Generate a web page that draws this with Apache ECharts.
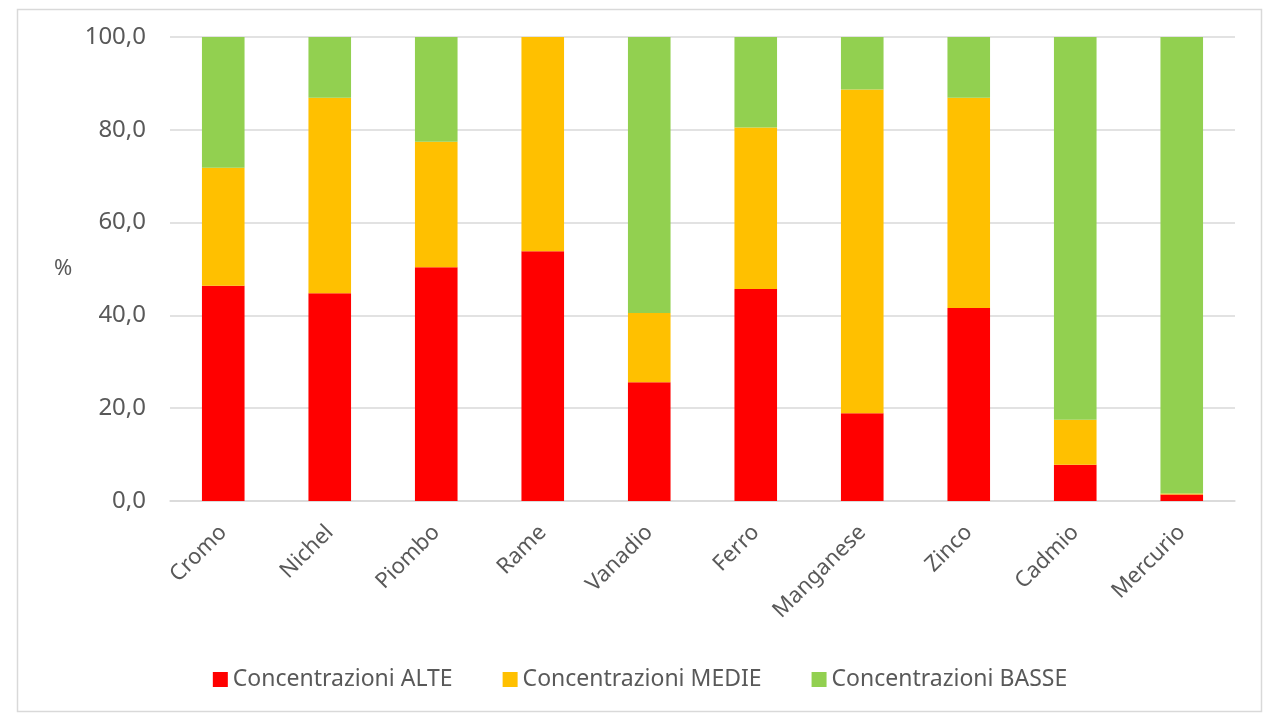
<!DOCTYPE html>
<html>
<head>
<meta charset="utf-8">
<style>
  html, body { margin: 0; padding: 0; background: #fff; }
  #chart { width: 1280px; height: 720px; }
</style>
<script src="https://cdn.jsdelivr.net/npm/echarts@6/dist/echarts.min.js"></script>
</head>
<body>
<div id="chart"></div>
<script>
// categorie (metalli)
var categories = ['Cromo', 'Nichel', 'Piombo', 'Rame', 'Vanadio', 'Ferro', 'Manganese', 'Zinco', 'Cadmio', 'Mercurio'];

// percentuali
var alte  = [46.4, 44.8, 50.4, 53.8, 25.6, 45.7, 18.9, 41.6, 7.8, 1.4];
var medie = [25.4, 42.1, 27.0, 46.2, 14.9, 34.8, 69.8, 45.3, 9.7, 0.2];
var basse = [28.2, 13.1, 22.6, 0.0, 59.5, 19.5, 11.3, 13.1, 82.5, 98.4];

var yTicks = [0, 20, 40, 60, 80, 100];

var textColor = '#595959';
var fontFam = '"Noto Sans", sans-serif';

var chart = echarts.init(document.getElementById('chart'));

function serie(name, data, color) {
	return {
		name: name,
		type: 'bar',
		stack: 'tot',
		data: data,
		barWidth: '40%',
		itemStyle: { color: color },
		emphasis: { disabled: true }
	};
}

var option = {
	animation: false,
	backgroundColor: '#fff',
	textStyle: { fontFamily: fontFam },
	color: ['#FF0000', '#FFC000', '#92D050'],
	graphic: [{
		type: 'rect',
		shape: { x: 17.5, y: 9.5, width: 1244, height: 702 },
		style: { fill: 'none', stroke: '#D9D9D9', lineWidth: 1.5 },
		silent: true
	}, {
		type: 'text',
		left: 54,
		top: 258,
		style: { text: '%', fill: textColor, font: '22px ' + fontFam }
	}],
	grid: { left: 170, right: 45, top: 37, bottom: 219 },
	legend: {
		bottom: 24,
		left: 'center',
		itemWidth: 15,
		itemHeight: 15,
		itemGap: 50,
		icon: 'rect',
		textStyle: { color: textColor, fontSize: 23, fontFamily: fontFam },
		data: ['Concentrazioni ALTE', 'Concentrazioni MEDIE', 'Concentrazioni BASSE']
	},
	xAxis: {
		type: 'category',
		data: categories,
		axisTick: { show: false },
		axisLine: { lineStyle: { color: '#D9D9D9', width: 1.5 } },
		axisLabel: { rotate: 45, color: textColor, fontSize: 22, margin: 28, fontFamily: fontFam }
	},
	yAxis: {
		type: 'value',
		min: yTicks[0],
		max: yTicks[yTicks.length - 1],
		interval: 20,
		axisLine: { show: false },
		axisTick: { show: false },
		splitLine: { lineStyle: { color: '#D9D9D9', width: 1.5 } },
		axisLabel: {
			color: textColor,
			fontSize: 24,
			margin: 24,
			fontFamily: fontFam,
			formatter: function (v) { return v.toFixed(1).replace('.', ','); }
		}
	},
	series: [
		serie('Concentrazioni ALTE', alte, '#FF0000'),
		serie('Concentrazioni MEDIE', medie, '#FFC000'),
		serie('Concentrazioni BASSE', basse, '#92D050')
	]
};

chart.setOption(option);
</script>
</body>
</html>
